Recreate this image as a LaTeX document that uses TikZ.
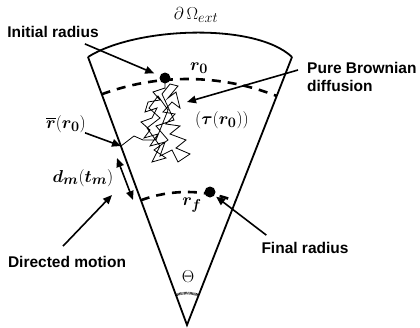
\documentclass[tikz,border=0pt]{standalone}
\usepackage{amsmath, bm}
\usepackage{fontspec}
\setsansfont{Liberation Sans}
\usetikzlibrary{arrows.meta, positioning, calc}
\tikzset{
  wall/.style={draw=black, line width=1.8pt, line join=miter},
  radarc/.style={draw=black, line width=2.6pt, dash pattern=on 9pt off 7pt},
  dotV/.style={circle, fill=black, inner sep=0pt, minimum size=11pt},
  arr/.style={draw=black, line width=1.6pt,
              -{Triangle[length=9pt,width=7.5pt]}},
  dblarr/.style={draw=black, line width=1.6pt,
                 {Triangle[length=9pt,width=7.5pt]}-{Triangle[length=9pt,width=7.5pt]}},
  walk/.style={draw=black, line width=0.8pt, line join=miter},
  txt/.style={font=\sffamily\bfseries\fontsize{15.5}{17.5}\selectfont, inner sep=0pt},
  mth/.style={font=\fontsize{19}{21}\selectfont, inner sep=0pt},
  angarc/.style={draw=black, line width=2.6pt, dash pattern=on 0.5pt off 0.7pt},
}
\begin{document}
\begin{tikzpicture}[x=1pt,y=-1pt]
    \useasboundingbox (0,0) rectangle (420,327);
    %% sector
    \coordinate (apex) at (187,325);
    \coordinate (tl) at (88,57);
    \coordinate (tr) at (292,57);
    \draw[wall] (tl) -- (apex) -- (tr);
    \draw[wall] (tl) .. controls (135,27) and (255,22) .. (tr);
    %% radii (dashed)
    \draw[radarc] (apex) ++(110.3:246pt) arc[start angle=110.3, end angle=68.6, radius=246pt];
    \draw[radarc] (apex) ++(110.3:133pt) arc[start angle=110.3, end angle=68.6, radius=133pt];
    \node[dotV] (start) at (165,78) {};
    \node[dotV] (final) at (210,192) {};
    %% random walk
    \coordinate (exit) at (121,146);
    \draw[walk] (start.center) -- (165,88) -- (153,92) -- (160,100) -- (148,102)
      -- (145,112) -- (157,108) -- (152,118) -- (141,122) -- (150,130) -- (144,138)
      -- (158,134) -- (150,146) -- (165,142) -- (160,156) -- (172,150) -- (178,162)
      -- (190,154) -- (176,148) -- (186,140) -- (170,134) -- (180,126) -- (166,124)
      -- (175,114) -- (163,112) -- (172,102) -- (180,108) -- (176,92) -- (168,98)
      -- (178,86) -- (170,84) -- (162,94) -- (174,120) -- (156,126) -- (168,140)
      -- (154,150) -- (166,158) -- (152,162) -- (160,146) -- (147,128) -- (160,118)
      -- (149,108) -- (158,96) -- (168,110) -- (156,140) -- (143,140) -- (134,136)
      -- (exit);
    %% angle
    \draw[angarc] (apex) ++(110.3:32pt) arc[start angle=110.3, end angle=68.6, radius=32pt];
    \node[mth] (theta) at (188,277) {$\Theta$};
    %% labels
    \node[mth] (omega) at (196,15) {$\partial\,\Omega_{ext}$};
    \node[mth] (rzero) at (199,68) {$\bm{r}_{\bm{0}}$};
    \node[mth] (rfin) at (192,205) {$\bm{r}_{\bm{f}}$};
    \node[mth] (tau) at (222,120) {$(\bm{\tau}(\bm{r}_{\bm{0}}))$};
    \node[mth] (rbar) at (66,124) {$\overline{\bm{r}}(\bm{r}_{\bm{0}})$};
    \node[mth] (dm) at (83,178) {$\bm{d}_{\bm{m}}(\bm{t}_{\bm{m}})$};
    \node[txt] (initlbl) at (53,32) {Initial radius};
    \node[txt, anchor=west, align=left] (pbd) at (307,77) {Pure Brownian\\diffusion};
    \node[txt] (dirlbl) at (67,262) {Directed motion};
    \node[txt] (finlbl) at (305,248) {Final radius};
    %% pointers
    \coordinate (inwalk) at (187,102);
    \coordinate (dmtop) at (117,158);
    \coordinate (dmbot) at (133,200);
    \draw[arr, shorten >=6pt] ($(initlbl.south east)+(-14,6)$) -- (start);
    \draw[arr] ($(pbd.west)+(-9,-7)$) -- (inwalk);
    \draw[arr] ($(rbar.south east)+(-1,0)$) -- (exit);
    \draw[dblarr] (dmtop) -- (dmbot);
    \draw[arr] ($(dirlbl.north)+(-4,-10)$) -- ($(dmbot)+(-21,-5)$);
    \draw[arr, shorten >=2pt] ($(finlbl.north west)+(5,-7)$) -- (final);
  \end{tikzpicture}
\end{document}
